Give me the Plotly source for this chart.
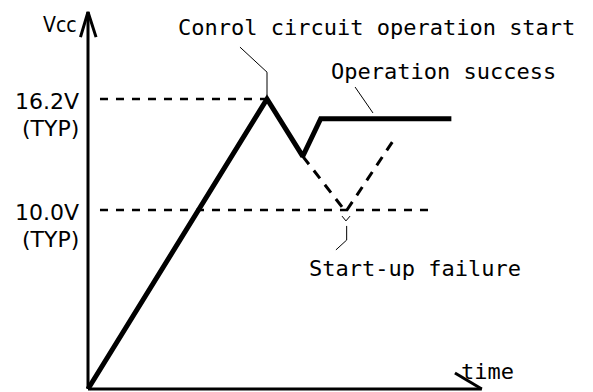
import plotly.graph_objects as go

# ---- data (time in arbitrary units, voltage in V) ----
rise_t = [0.0, 10.0, 12.0, 13.0, 20.3]
rise_v = [0.0, 16.2, 13.0, 15.1, 15.1]

fail_t = [12.0, 14.4, 17.2]
fail_v = [13.0, 9.9, 14.1]

thr_levels = [16.2, 10.0]
thr_values = ["16.2V", "10.0V"]
thr_notes = ["(TYP)", "(TYP)"]
thr_start = [0.67, 0.67]
thr_end = [9.9, 19.1]

axis_y_top = 21.06
axis_x_end = 22.0

# leader lines for annotations
lead_ctrl_t = [8.49, 10.0, 10.0]
lead_ctrl_v = [19.1, 17.7, 16.4]
lead_succ_t = [14.92, 15.92]
lead_succ_v = [16.87, 15.42]
lead_fail_t = [14.19, 14.41, 14.64, None, 14.45, 14.45, 13.85]
lead_fail_v = [9.66, 9.39, 9.66, None, 9.11, 8.32, 7.77]

K = 17.9  # px per unit (same on both axes)
PAGE_OFF = 8  # default body margin of the html page
W, H = 593 - PAGE_OFF, 392 - PAGE_OFF
ORIG_X, ORIG_Y = 88, 389  # origin in page pixels

fig = go.Figure()

# axes drawn as lines
fig.add_trace(go.Scatter(x=[0, 0], y=[0, axis_y_top], mode="lines",
                         line=dict(color="black", width=3), hoverinfo="skip"))
fig.add_trace(go.Scatter(x=[0, axis_x_end], y=[0, 0], mode="lines",
                         line=dict(color="black", width=3), hoverinfo="skip"))
# arrow heads
fig.add_trace(go.Scatter(x=[-0.42, 0, 0.45], y=[axis_y_top - 1.4, axis_y_top, axis_y_top - 1.4],
                         mode="lines", line=dict(color="black", width=3), hoverinfo="skip"))
fig.add_trace(go.Scatter(x=[axis_x_end - 1.5, axis_x_end], y=[0.89, 0],
                         mode="lines", line=dict(color="black", width=3), hoverinfo="skip"))

# threshold dashed lines
for lv, s, e in zip(thr_levels, thr_start, thr_end):
    fig.add_trace(go.Scatter(x=[s, e], y=[lv, lv], mode="lines",
                             line=dict(color="black", width=2.5, dash="8px,8px"), hoverinfo="skip"))

# failure dashed path
fig.add_trace(go.Scatter(x=fail_t, y=fail_v, mode="lines",
                         line=dict(color="black", width=3, dash="10px,8px"), hoverinfo="skip"))

# main Vcc path
fig.add_trace(go.Scatter(x=rise_t, y=rise_v, mode="lines",
                         line=dict(color="black", width=5), hoverinfo="skip"))

# leaders
for lt, lvv in [(lead_ctrl_t, lead_ctrl_v), (lead_succ_t, lead_succ_v), (lead_fail_t, lead_fail_v)]:
    fig.add_trace(go.Scatter(x=lt, y=lvv, mode="lines", connectgaps=False,
                             line=dict(color="black", width=1), hoverinfo="skip"))

mono = dict(family="DejaVu Sans Mono", size=22, color="black")
sans = dict(family="DejaVu Sans, Liberation Sans", size=22, color="black")

def tx(px):
    return (px - ORIG_X) / K

def ty(py):
    return (ORIG_Y - py) / K

annots = [
    dict(text="Conrol circuit operation start", x=tx(376), y=ty(27), font=mono),
    dict(text="Operation success", x=tx(443), y=ty(71), font=mono),
    dict(text="Start-up failure", x=tx(415), y=ty(268), font=mono),
    dict(text="time", x=tx(487), y=ty(371), font=mono),
    dict(text="Vcc", x=tx(60), y=ty(25),
         font=dict(family="DejaVu Sans Condensed, Liberation Sans", size=21, color="black")),
]
for val, note, lv in zip(thr_values, thr_notes, thr_levels):
    annots.append(dict(text=val, x=tx(81), y=lv - 2.5 / K, xanchor="right", font=sans))
    annots.append(dict(text=note, x=tx(81), y=lv - 29.5 / K, xanchor="right", font=sans))

for a in annots:
    a.setdefault("xanchor", "center")
    fig.add_annotation(showarrow=False, yanchor="middle", **a)

fig.update_layout(
    width=W, height=H, autosize=False,
    margin=dict(l=0, r=0, t=0, b=0, pad=0),
    paper_bgcolor="white", plot_bgcolor="white",
    showlegend=False,
    xaxis=dict(range=[-(ORIG_X - PAGE_OFF) / K, (W - (ORIG_X - PAGE_OFF)) / K],
               visible=False, fixedrange=True),
    yaxis=dict(range=[-(H - (ORIG_Y - PAGE_OFF)) / K, (ORIG_Y - PAGE_OFF) / K],
               visible=False, fixedrange=True),
)

fig.write_html("out.html")
